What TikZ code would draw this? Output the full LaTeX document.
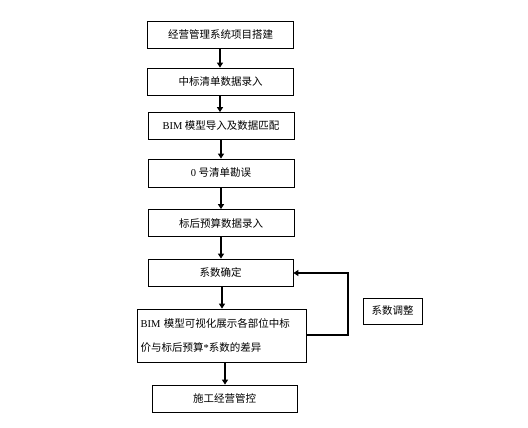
\documentclass[tikz,border=0pt]{standalone}
\usepackage{fontspec}
\setmainfont{Liberation Serif}
\newfontfamily\cjk{Noto Sans CJK SC}
\newcommand{\lat}[1]{{\rmfamily #1}}
\usetikzlibrary{arrows.meta}
\begin{document}
\begin{tikzpicture}[x=1pt,y=-1pt,
  box/.style={draw,line width=0.8pt,inner sep=0pt,font=\cjk\fontsize{10.5}{12}\selectfont},
  conn/.style={line width=2pt,-{Triangle[length=5pt,width=6pt]}}]
\useasboundingbox (0,0) rectangle (528,428);
\fill[white] (0,0) rectangle (528,428);
\node[box,minimum width=146pt,minimum height=27pt] (b1) at (220.5,35) {经营管理系统项目搭建};
\node[box,minimum width=146pt,minimum height=27pt] (b2) at (220.5,81.5) {中标清单数据录入};
\node[box,minimum width=146pt,minimum height=27pt] (b3) at (221,126) {\lat{BIM} 模型导入及数据匹配};
\node[box,minimum width=146pt,minimum height=28pt] (b4) at (221,173) {\lat{0} 号清单勘误};
\node[box,minimum width=146pt,minimum height=27pt] (b5) at (221,223) {标后预算数据录入};
\node[box,minimum width=145pt,minimum height=27pt] (b6) at (220.5,272.5) {系数确定};
\node[box,minimum width=169pt,minimum height=53pt,align=left,text width=162pt,
  font=\cjk\fontsize{10.5}{24}\selectfont] (b7) at (221.5,335.5)
  {\lat{BIM} 模型可视化展示各部位中标\\价与标后预算\lat{*}系数的差异};
\node[box,minimum width=145pt,minimum height=27pt] (b8) at (224.5,398.5) {施工经营管控};
\node[box,minimum width=59pt,minimum height=26pt] (b9) at (392.5,311) {系数调整};
\draw[conn] (b1.south -| 220,0) -- (b2.north -| 220,0);
\draw[conn] (b2.south -| 220,0) -- (b3.north -| 220,0);
\draw[conn] (b3.south -| 221,0) -- (b4.north -| 221,0);
\draw[conn] (b4.south -| 221,0) -- (b5.north -| 221,0);
\draw[conn] (b5.south -| 221,0) -- (b6.north -| 221,0);
\draw[conn] (b6.south -| 222,0) -- (b7.north -| 222,0);
\draw[conn] (b7.south -| 225,0) -- (b8.north -| 225,0);
\coordinate (c1) at (348,335);
\coordinate (c2) at (348,273);
\draw[conn] (b7.east |- c1) -- (c1) -- (c2) -- (b6.east |- c2);
\end{tikzpicture}
\end{document}
